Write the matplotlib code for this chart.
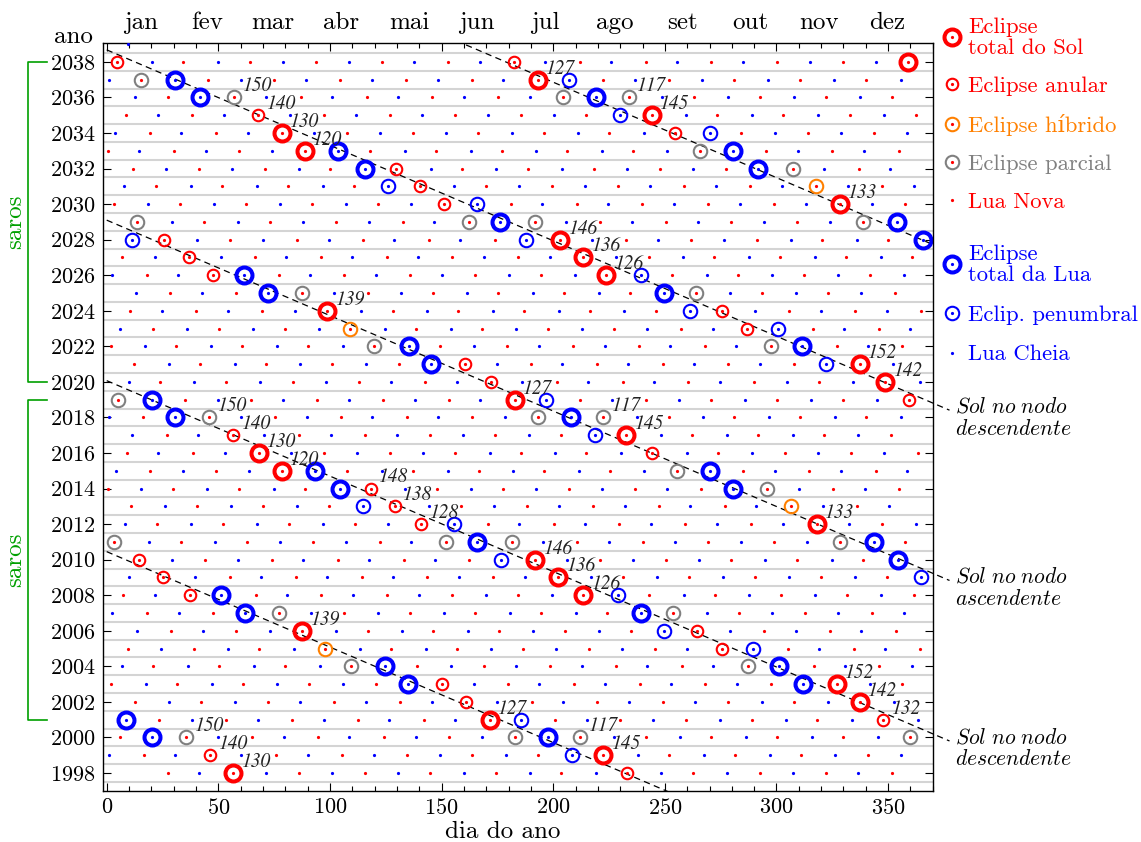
import datetime as dt
import numpy as np
import matplotlib
matplotlib.use("Agg")
import matplotlib.pyplot as plt
import matplotlib.transforms as mtransforms
from matplotlib.lines import Line2D

plt.rcParams['font.family'] = ['cmr10', 'DejaVu Serif']
plt.rcParams['mathtext.fontset'] = 'cm'
plt.rcParams['axes.formatter.use_mathtext'] = True
plt.rcParams['font.size'] = 16

first_year, last_year = 1998, 2038
data_start, data_end = dt.datetime(1998, 1, 20), dt.datetime(2039, 1, 15)
month_names = ['jan', 'fev', 'mar', 'abr', 'mai', 'jun', 'jul', 'ago', 'set', 'out', 'nov', 'dez']
month_lengths = [31, 28, 31, 30, 31, 30, 31, 31, 30, 31, 30, 31]

# eclipses shown in the chart (UT dates)
solar_total = ['1998-02-26', '1999-08-11', '2001-06-21', '2002-12-04', '2003-11-23', '2006-03-29',
               '2008-08-01', '2009-07-22', '2010-07-11', '2012-11-13', '2015-03-20', '2016-03-09',
               '2017-08-21', '2019-07-02', '2020-12-14', '2021-12-04', '2024-04-08', '2026-08-12',
               '2027-08-02', '2028-07-22', '2030-11-25', '2033-03-30', '2034-03-20', '2035-09-02',
               '2037-07-13', '2038-12-26']
solar_annular = ['1998-08-22', '1999-02-16', '2001-12-14', '2002-06-10', '2003-05-31', '2005-10-03',
                 '2006-09-22', '2008-02-07', '2009-01-26', '2010-01-15', '2012-05-20', '2013-05-10',
                 '2014-04-29', '2016-09-01', '2017-02-26', '2019-12-26', '2020-06-21', '2021-06-10',
                 '2023-10-14', '2024-10-02', '2026-02-17', '2027-02-06', '2028-01-26', '2030-06-01',
                 '2031-05-21', '2032-05-09', '2034-09-12', '2035-03-09', '2038-01-05', '2038-07-02']
solar_hybrid = ['2005-04-08', '2013-11-03', '2023-04-20', '2031-11-14']
solar_partial = ['2000-02-05', '2000-07-01', '2000-07-31', '2000-12-25', '2004-04-19', '2004-10-14',
                 '2007-03-19', '2007-09-11', '2011-01-04', '2011-06-01', '2011-07-01', '2011-11-25',
                 '2014-10-23', '2015-09-13', '2018-02-15', '2018-07-13', '2018-08-11', '2019-01-06',
                 '2022-04-30', '2022-10-25', '2025-03-29', '2025-09-21', '2029-01-14', '2029-06-12',
                 '2029-07-11', '2029-12-05', '2032-11-03', '2033-09-23', '2036-02-27', '2036-07-23',
                 '2036-08-21', '2037-01-16']
lunar_total = ['2000-01-21', '2000-07-16', '2001-01-09', '2003-05-16', '2003-11-09', '2004-05-04',
               '2004-10-28', '2007-03-03', '2007-08-28', '2008-02-21', '2010-12-21', '2011-06-15',
               '2011-12-10', '2014-04-15', '2014-10-08', '2015-04-04', '2015-09-28', '2018-01-31',
               '2018-07-27', '2019-01-21', '2021-05-26', '2022-05-16', '2022-11-08', '2025-03-14',
               '2025-09-07', '2026-03-03', '2028-12-31', '2029-06-26', '2029-12-20', '2032-04-25',
               '2032-10-18', '2033-04-14', '2033-10-08', '2036-02-11', '2036-08-07', '2037-01-31']
lunar_partial = ['1999-07-28', '2001-07-05', '2005-10-17', '2006-09-07', '2008-08-16', '2009-12-31',
                 '2010-06-26', '2012-06-04', '2013-04-25', '2017-08-07', '2019-07-16', '2021-11-19',
                 '2023-10-28', '2024-09-18', '2026-08-28', '2028-01-12', '2028-07-06', '2030-06-15',
                 '2031-05-07', '2034-09-28', '2035-08-19', '2037-07-27']

saros_dates = ['1998-02-26', '1999-02-16', '2000-02-05', '1999-08-11', '2000-07-31', '2001-06-21',
               '2001-12-14', '2002-12-04', '2003-11-23', '2006-03-29', '2008-08-01', '2009-07-22',
               '2010-07-11', '2012-05-20', '2013-05-10', '2014-04-29', '2012-11-13', '2015-03-20',
               '2016-03-09', '2017-02-26', '2018-02-15', '2017-08-21', '2018-08-11', '2019-07-02',
               '2020-12-14', '2021-12-04', '2024-04-08', '2026-08-12', '2027-08-02', '2028-07-22',
               '2030-11-25', '2033-03-30', '2034-03-20', '2035-03-09', '2036-02-27', '2035-09-02',
               '2036-08-21', '2037-07-13']
saros_numbers = [130, 140, 150, 145, 117, 127,
                 132, 142, 152, 139, 126, 136,
                 146, 128, 138, 148, 133, 120,
                 130, 140, 150, 145, 117, 127,
                 142, 152, 139, 126, 136, 146,
                 133, 120, 130, 140, 150, 145,
                 117, 127]

# Sun at the lunar nodes: year in which each dashed line crosses day 0
node_desc_years = [2038.68, 2020.07]
node_asc_years = [2047.6, 2029.1, 2010.45]
node_labels = {2038.68: 'descendente', 2029.1: 'ascendente', 2020.07: 'descendente'}
eclipse_year = 346.62
tropical_year = 365.2422


def phase_dates(offset):
    # mean lunations with the main periodic terms (offset 0 = new moon, 0.5 = full moon)
    k = np.arange(-40, 520) + offset
    T = k / 1236.85
    jde = 2451550.09766 + 29.530588861 * k + 0.00015437 * T ** 2
    E = 1 - 0.002516 * T
    M = np.radians(2.5534 + 29.10535670 * k)
    Mp = np.radians(201.5643 + 385.81693528 * k)
    F = np.radians(160.7108 + 390.67050284 * k)
    if offset == 0:
        c = [-0.40720, 0.17241, 0.01608, 0.01039, 0.00739, -0.00514]
    else:
        c = [-0.40614, 0.17302, 0.01614, 0.01043, 0.00734, -0.00515]
    jde = jde + (c[0] * np.sin(Mp) + c[1] * E * np.sin(M) + c[2] * np.sin(2 * Mp)
                 + c[3] * np.sin(2 * F) + c[4] * E * np.sin(Mp - M) + c[5] * E * np.sin(Mp + M))
    base = dt.datetime(2000, 1, 1, 12)
    return [base + dt.timedelta(days=float(j - 2451545.0)) for j in jde]


def to_doy(d):
    return (d - dt.datetime(d.year, 1, 1)).total_seconds() / 86400.0


new_moons = phase_dates(0)
full_moons = phase_dates(0.5)


def rows(dates):
    sel = [d for d in dates if data_start <= d <= data_end]
    return [to_doy(d) for d in sel], [d.year for d in sel]


def snap(date_list, phases):
    xs, ys = [], []
    for s in date_list:
        target = dt.datetime.strptime(s, '%Y-%m-%d') + dt.timedelta(hours=12)
        d = min(phases, key=lambda p: abs((p - target).total_seconds()))
        xs.append(to_doy(d))
        ys.append(d.year)
    return xs, ys


RED, BLUE, GRAY, ORANGE = '#ff0000', '#0000ff', '#808080', '#ff8000'

fig = plt.figure(figsize=(11.41, 8.42), dpi=100)
ax = fig.add_axes([0.090, 0.0609, 0.7275, 0.8877])

for y in range(first_year, last_year + 2):
    ax.axhline(y - 0.5, color='#d4d4d4', lw=1.5, zorder=0)

big = dict(ls='none', marker='o', mfc='none', ms=11.5, mew=2.9, zorder=2)
thin = dict(ls='none', marker='o', mfc='none', ms=9.7, mew=1.5, zorder=2)

x, y = snap(solar_total, new_moons)
ax.plot(x, y, mec=RED, **big)
x, y = snap(solar_annular, new_moons)
ax.plot(x, y, mec=RED, **dict(thin, ms=8.3))
x, y = snap(solar_hybrid, new_moons)
ax.plot(x, y, mec=ORANGE, **thin)
x, y = snap(solar_partial, new_moons)
ax.plot(x, y, mec=GRAY, **thin)
x, y = snap(lunar_total, full_moons)
ax.plot(x, y, mec=BLUE, **big)
x, y = snap(lunar_partial, full_moons)
ax.plot(x, y, mec=BLUE, **thin)

x, y = rows(new_moons)
ax.plot(x, y, ls='none', marker='o', ms=2.3, mew=0, color=RED, zorder=3)
x, y = rows(full_moons)
ax.plot(x, y, ls='none', marker='o', ms=2.3, mew=0, color=BLUE, zorder=3)

# saros numbers
x, y = snap(saros_dates, new_moons)
for xi, yi, n in zip(x, y, saros_numbers):
    ax.annotate(str(n), (xi, yi), xytext=(5.5, 1.5), textcoords='offset points',
                ha='left', va='bottom', fontsize=14, family='STIXGeneral', style='italic',
                color='#222222', zorder=4)

# dashed lines: Sun at the nodes
drift = tropical_year - eclipse_year
for c in node_desc_years + node_asc_years:
    if c in node_labels:
        d = np.linspace(0, 377.5, 50)
        ax.plot(d, c - d / drift, ls=(0, (5, 3.5)), color='black', lw=0.9, clip_on=False, zorder=1)
        txt = r'$\mathit{Sol\ no\ nodo}$' + '\n' + r'$\mathit{' + node_labels[c] + '}$'
        ax.annotate(txt, (d[-1], c - d[-1] / drift), xytext=(4, 10), textcoords='offset points',
                    ha='left', va='top', fontsize=15.5, linespacing=1.15, annotation_clip=False)
    else:
        d = np.linspace(0, 372, 50)
        ax.plot(d, c - d / drift, ls=(0, (5, 3.5)), color='black', lw=0.9, zorder=1)

ax.set_xlim(-1.8, 370)
ax.set_ylim(1997, 2039.05)
ax.set_xticks(np.arange(0, 351, 50))
ax.set_xticks(np.arange(0, 371, 10), minor=True)
ax.set_yticks(np.arange(first_year, last_year + 1, 2))
ax.tick_params(which='both', direction='in', top=True, right=True, width=0.8)
ax.tick_params(which='major', length=6, pad=5)
ax.tick_params(which='minor', length=3.5)
for s in ax.spines.values():
    s.set_linewidth(1.0)
ax.set_xlabel('dia do ano', fontsize=18)
ax.xaxis.set_label_coords(0.482, -0.041)

# month names on top
starts = np.cumsum([0] + month_lengths)
top = mtransforms.blended_transform_factory(ax.transData, ax.transAxes)
for name, a, b in zip(month_names, starts[:-1], starts[1:]):
    ax.text((a + b) / 2, 1.019, name, transform=top, ha='center', va='baseline', fontsize=18)
ax.text(-0.012, 1.0, 'ano', transform=ax.transAxes, ha='right', va='baseline', fontsize=18)

# saros brackets
left = mtransforms.blended_transform_factory(ax.transAxes, ax.transData)
GREEN = '#00a000'
for y0, y1 in [(2038, 2020), (2019, 2001)]:
    ax.plot([-0.067, -0.090, -0.090, -0.067], [y0, y0, y1, y1], color=GREEN, lw=1.2,
            transform=left, clip_on=False)
    ax.text(-0.106, (y0 + y1) / 2, 'saros', color=GREEN, rotation=90, ha='center', va='center',
            transform=left, fontsize=18)

# legends
def dot(c):
    return Line2D([], [], ls='none', marker='o', ms=2.3, mew=0, color=c)


def ring(c, size, w):
    return Line2D([], [], ls='none', marker='o', mfc='none', mec=c, ms=size, mew=w)


solar_handles = [(ring(RED, 11.5, 2.9), dot(RED)), (ring(RED, 8.3, 1.5), dot(RED)),
                 (ring(ORANGE, 9.7, 1.5), dot(RED)), (ring(GRAY, 9.7, 1.5), dot(RED)), dot(RED)]
solar_labels = ['Eclipse\ntotal do Sol', 'Eclipse anular', 'Eclipse híbrido', 'Eclipse parcial', 'Lua Nova']
lunar_handles = [(ring(BLUE, 11.5, 2.9), dot(BLUE)), (ring(BLUE, 9.7, 1.5), dot(BLUE)), dot(BLUE)]
lunar_labels = ['Eclipse\ntotal da Lua', 'Eclip. penumbral', 'Lua Cheia']

opts = dict(loc='upper left', frameon=False, handlelength=0.8, handletextpad=0.33,
            labelspacing=0.8, borderaxespad=0, borderpad=0, fontsize=16.3)
leg1 = ax.legend(solar_handles, solar_labels, bbox_to_anchor=(1.012, 1.035),
                 labelcolor=[RED, RED, ORANGE, GRAY, RED], **opts)
for t in leg1.get_texts():
    t.set_linespacing(1.1)
ax.add_artist(leg1)
leg2 = ax.legend(lunar_handles, lunar_labels, bbox_to_anchor=(1.012, 0.731), labelcolor=BLUE,
                 **dict(opts, labelspacing=0.88))
for t in leg2.get_texts():
    t.set_linespacing(1.1)

fig.savefig('out.png', dpi=100)
